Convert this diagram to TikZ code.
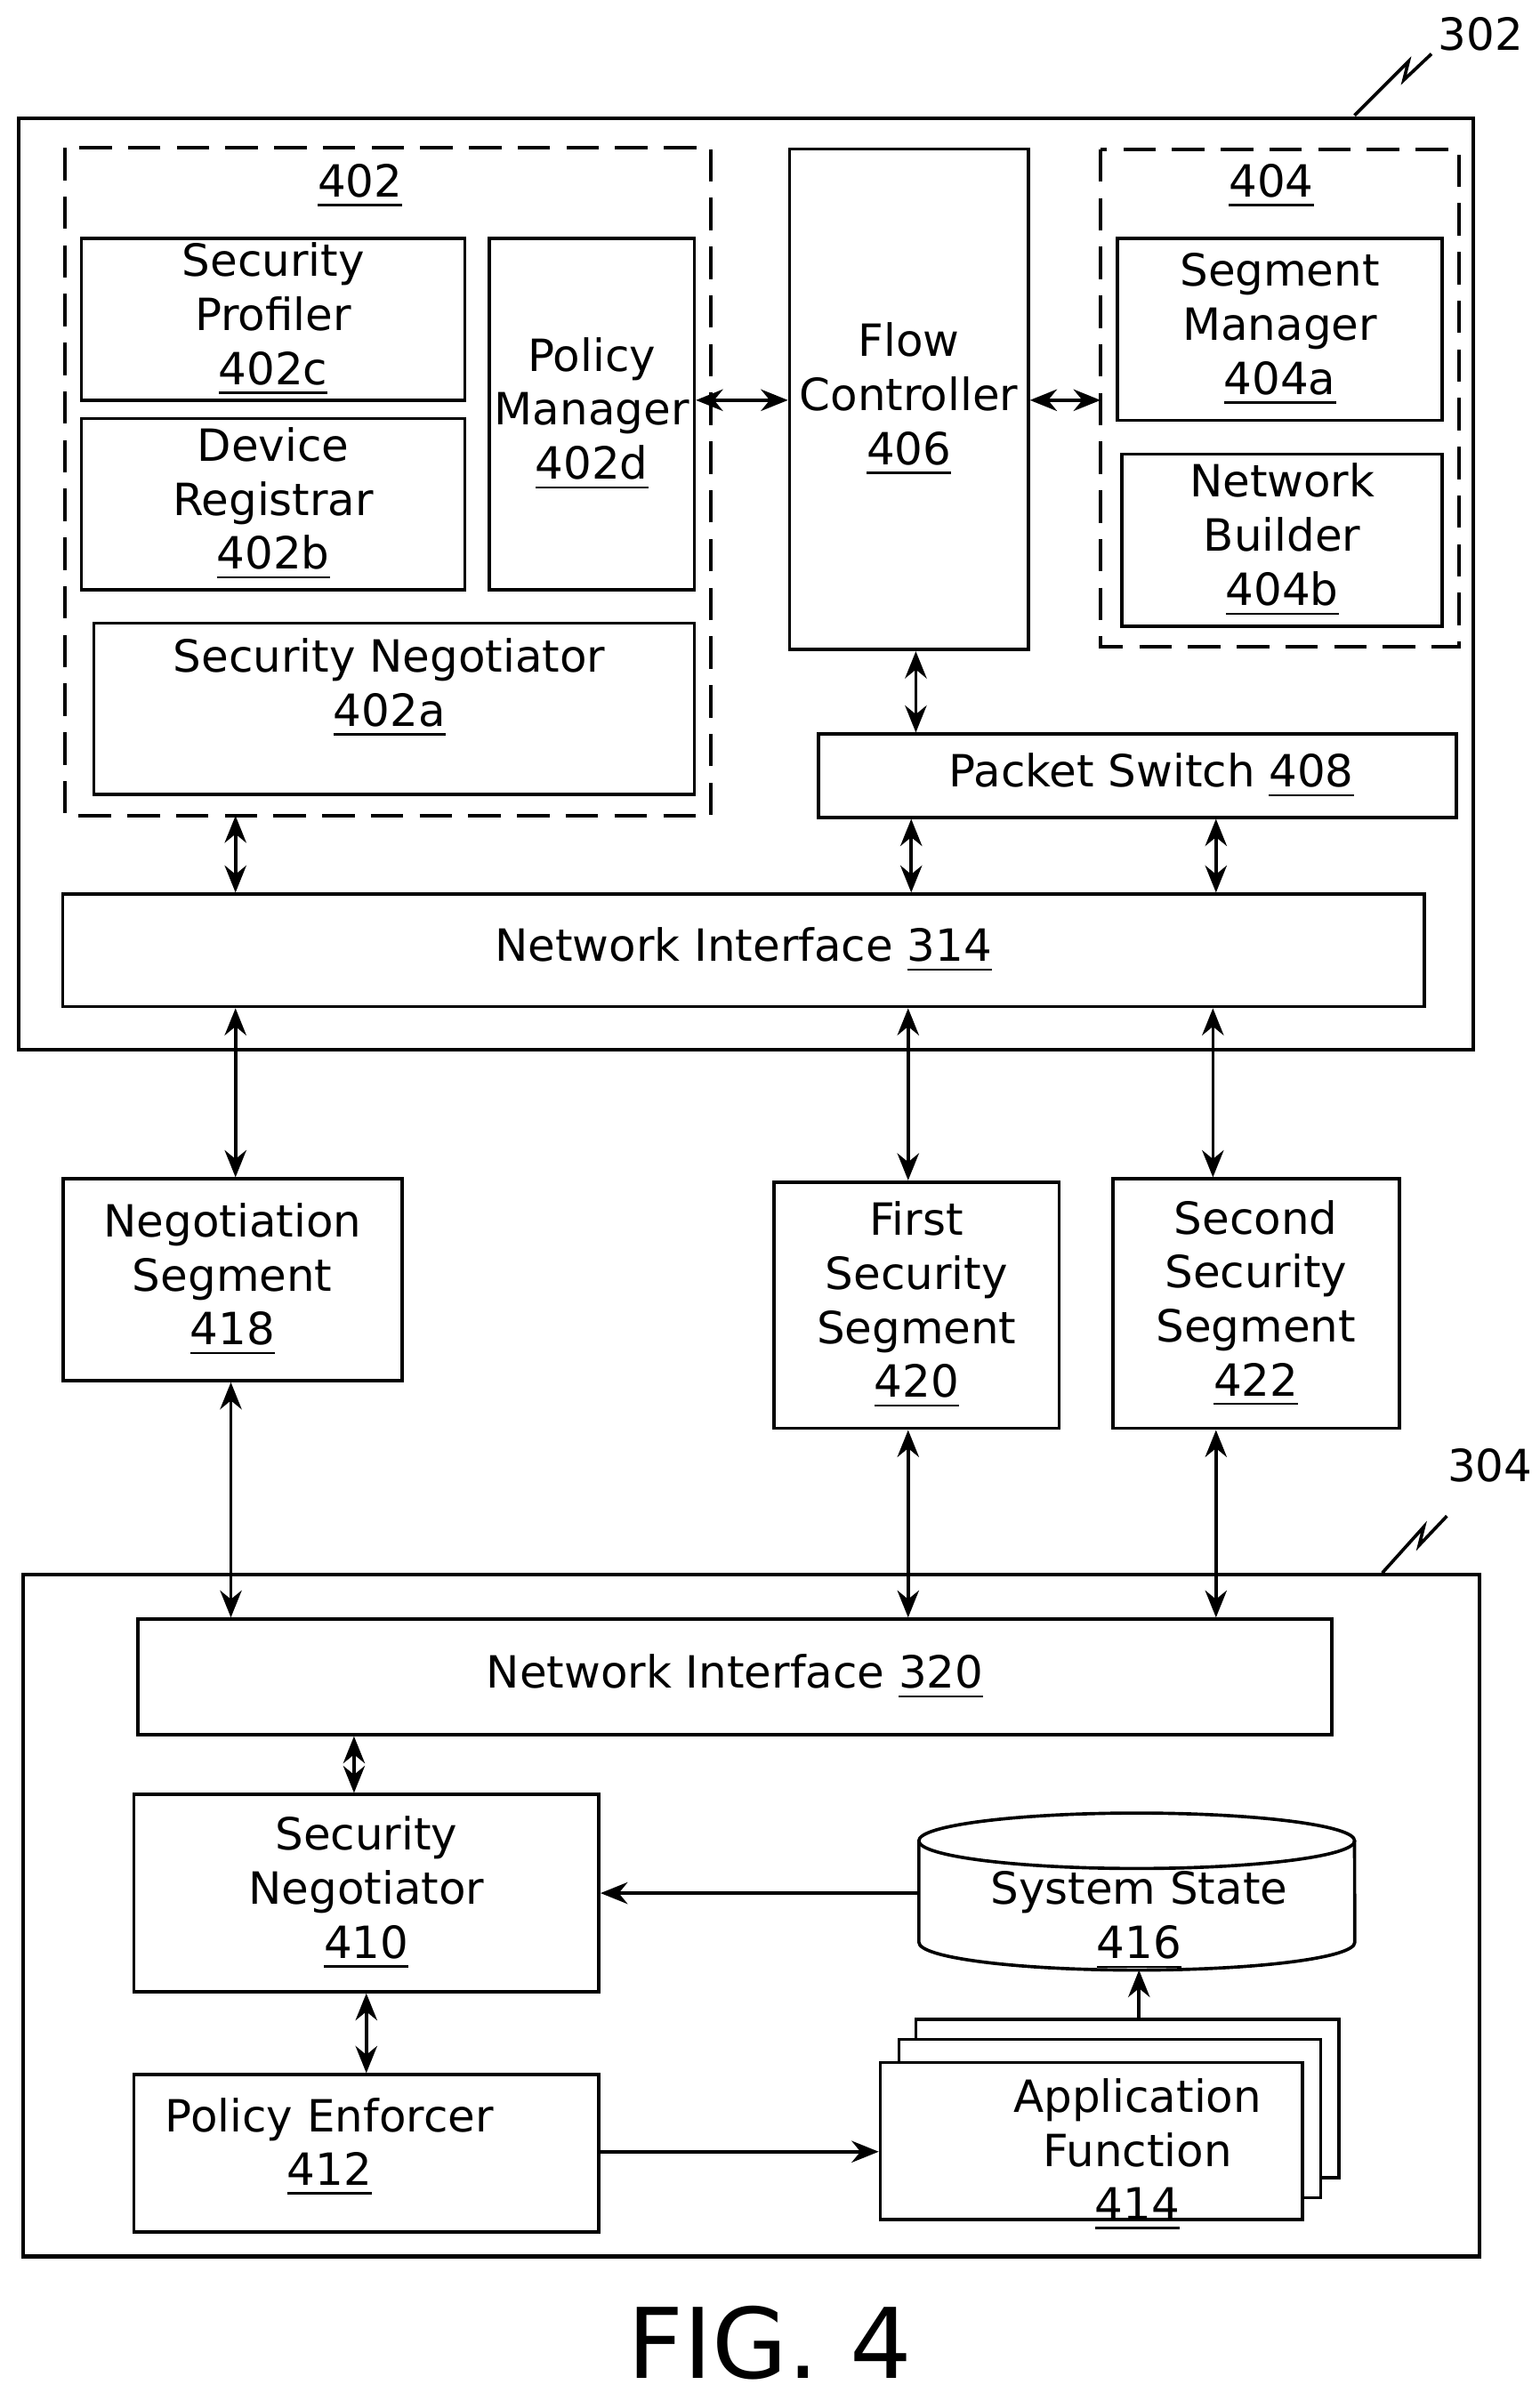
\documentclass[tikz,border=0pt]{standalone}
\usepackage{fontspec}
\setmainfont{DejaVu Sans}
\usetikzlibrary{arrows.meta,positioning}
\tikzset{
  box/.style={draw, line width=0.6pt, inner sep=0pt, align=center},
  grp/.style={draw, line width=0.7pt, dashed, dash pattern=on 6pt off 3pt},
  txt/.style={align=center, inner sep=0pt, font=\fontsize{8.2}{10}\selectfont},
  link/.style={line width=0.6pt, {Stealth[length=5pt,width=4pt]}-{Stealth[length=5pt,width=4pt]}},
  flow/.style={line width=0.6pt, -{Stealth[length=5pt,width=4pt]}},
}
\newcommand{\num}[1]{\underline{#1}}
\begin{document}
\begin{tikzpicture}[x=0.01cm,y=-0.01cm, font=\fontsize{8.2}{10}\selectfont]
\useasboundingbox (0,0) rectangle (1000,1560);

% device 302
\draw[line width=0.7pt] (12,77) rectangle (957,682);
\node[txt] (L302) at (962,22) {302};
\draw[line width=0.6pt] (880,75) -- (915,40) -- (912,52) -- (930,35);

\draw[grp] (42,96) rectangle (462,530);
\node[txt] (L402) at (234,121) {\num{402}};
\node[box, minimum width=2.49cm, minimum height=1.05cm] (SP) at (177.5,207.5) {Security\\Profiler\\\num{402c}};
\node[box, minimum width=2.49cm, minimum height=1.11cm] (DR) at (177.5,327.5) {Device\\Registrar\\\num{402b}};
\node[box, minimum width=1.33cm, minimum height=2.28cm] (PM) at (384.5,269) {Policy\\Manager\\\num{402d}};
\node[box, minimum width=3.9cm, minimum height=1.11cm] (SN) at (256,460.5) {};
\node[txt] (SNt) at (253,447) {Security Negotiator\\\num{402a}};

\node[box, minimum width=1.55cm, minimum height=3.25cm] (FC) at (590.5,259.5) {Flow\\Controller\\\num{406}};

\draw[grp] (715,97) rectangle (948,420);
\node[txt] (L404) at (826,121) {\num{404}};
\node[box, minimum width=2.11cm, minimum height=1.18cm] (SM) at (831.5,214) {Segment\\Manager\\\num{404a}};
\node[box, minimum width=2.08cm, minimum height=1.12cm] (NB) at (833,351) {Network\\Builder\\\num{404b}};

\node[box, minimum width=4.14cm, minimum height=0.54cm] (PS) at (739,504) {};
\node[txt] (PSt) at (748,504) {Packet Switch \num{408}};
\node[box, minimum width=8.84cm, minimum height=0.73cm] (NI314) at (483,617.5) {Network Interface \num{314}};

% segments
\node[box, minimum width=2.2cm, minimum height=1.31cm] (NS) at (151,831.5) {Negotiation\\Segment\\\num{418}};
\node[box, minimum width=1.85cm, minimum height=1.6cm] (FS) at (595.5,848) {First\\Security\\Segment\\\num{420}};
\node[box, minimum width=1.86cm, minimum height=1.62cm] (SS2) at (816,847) {Second\\Security\\Segment\\\num{422}};

% device 304
\draw[line width=0.7pt] (15,1023) rectangle (961,1466);
\node[txt] (L304) at (968,952) {304};
\draw[line width=0.6pt] (898,1022) -- (925,992) -- (922,1004) -- (940,985);

\node[box, minimum width=7.75cm, minimum height=0.75cm] (NI320) at (477.5,1089.5) {Network Interface \num{320}};
\node[box, minimum width=3.02cm, minimum height=1.28cm] (SN410) at (238,1230) {Security\\Negotiator\\\num{410}};
\node[box, minimum width=3.02cm, minimum height=1.02cm] (PE) at (238,1399) {};
\node[txt] (PEt) at (214,1395) {Policy Enforcer\\\num{412}};

% system state
\draw[line width=0.6pt, fill=white] (597,1196) -- (597,1262) arc[start angle=180, end angle=360, x radius=1.415cm, y radius=0.18cm] -- (880,1196);
\draw[line width=0.6pt] (738.5,1196) ellipse[x radius=1.415cm, y radius=0.18cm];
\node[txt] (SST) at (740,1248) {System State\\\num{416}};
\coordinate (SSl) at (597,1230);
\coordinate (SSb) at (740,1280);

% application function stack
\draw[line width=0.6pt, fill=white] (595,1312) rectangle (870,1415);
\draw[line width=0.6pt, fill=white] (584,1325) rectangle (858,1428);
\node[box, fill=white, minimum width=2.74cm, minimum height=1.02cm] (AF) at (709,1391) {};
\node[txt] (AFt) at (739,1400) {Application\\Function\\\num{414}};
\coordinate (AFtop) at (740,1312);

\node[font=\fontsize{18}{22}\selectfont] (FIG) at (500,1522) {FIG.\ 4};

% connectors
\draw[link] (PM.east |- 0,260) -- (FC.west |- 0,260);
\draw[link] (FC.east |- 0,260) -- (715,260);
\draw[link] (FC.south -| 595,0) -- (PS.north -| 595,0);
\draw[link] (153,530) -- (NI314.north -| 153,0);
\draw[link] (PS.south -| 592,0) -- (NI314.north -| 592,0);
\draw[link] (PS.south -| 790,0) -- (NI314.north -| 790,0);
\draw[link] (NI314.south -| 153,0) -- (NS.north -| 153,0);
\draw[link] (NI314.south -| 590,0) -- (FS.north -| 590,0);
\draw[link] (NI314.south -| 788,0) -- (SS2.north -| 788,0);
\draw[link] (NS.south -| 150,0) -- (NI320.north -| 150,0);
\draw[link] (FS.south -| 590,0) -- (NI320.north -| 590,0);
\draw[link] (SS2.south -| 790,0) -- (NI320.north -| 790,0);
\draw[link] (NI320.south -| 230,0) -- (SN410.north -| 230,0);
\draw[link] (SN410.south -| 238,0) -- (PE.north -| 238,0);
\draw[flow] (SSl) -- (SN410.east |- SSl);
\draw[flow] (PE.east |- 0,1398) -- (AF.west |- 0,1398);
\draw[flow] (AFtop) -- (SSb);
\end{tikzpicture}
\end{document}
